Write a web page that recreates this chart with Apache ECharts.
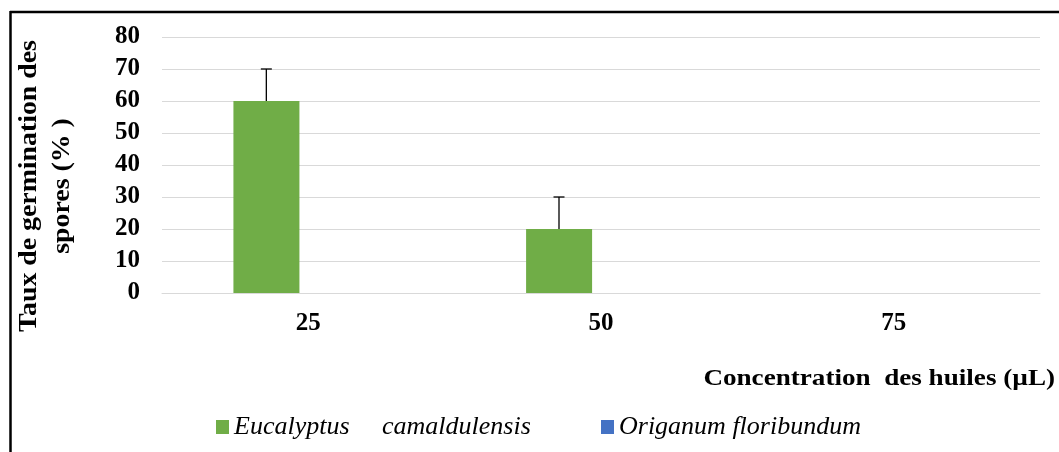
<!DOCTYPE html>
<html>
<head>
<meta charset="utf-8">
<script src="https://cdn.jsdelivr.net/npm/echarts@6/dist/echarts.min.js"></script>
<style>html,body{margin:0;padding:0;background:#fff}#c{width:1059px;height:452px}</style>
</head>
<body>
<div id="c"></div>
<script>
const categories = ['25', '50', '75'];
const seriesNames = ['Eucalyptus     camaldulensis', 'Origanum floribundum'];
const eucalyptus = [60, 20, 0];
const eucalyptusErr = [10, 10, 0];
const origanum = [0, 0, 0];
const origanumErr = [0, 0, 0];
const yTicks = { min: 0, max: 80, interval: 10 };
const yTitle = 'Taux de germination des\nspores (% )';
const xTitle = 'Concentration  des huiles (µL)';

const FONT = '"Liberation Serif", "Times New Roman", serif';
const chart = echarts.init(document.getElementById('c'));

function errSeries(vals, errs, idx) {
  return {
    type: 'custom',
    name: 'err' + idx,
    z: 5,
    data: vals.map((v, i) => [i, v, errs[i]]),
    renderItem: function (params, api) {
      const i = api.value(0), v = api.value(1), e = api.value(2);
      if (!e) return null;
      const base = api.coord([i, v]);
      const top = api.coord([i, v + e]);
      const off = (idx === 0 ? -1 : 1) * 42;
      const x = base[0] + off;
      return {
        type: 'group',
        children: [
          { type: 'line', shape: { x1: x, y1: base[1], x2: x, y2: top[1] }, style: { stroke: '#000', lineWidth: 1.3 } },
          { type: 'line', shape: { x1: x - 5.5, y1: top[1], x2: x + 5.5, y2: top[1] }, style: { stroke: '#000', lineWidth: 1.3 } }
        ]
      };
    }
  };
}

const legendText = { fontFamily: FONT, fontStyle: 'italic', fontSize: 26, color: '#000' };

chart.setOption({
  animation: false,
  grid: { left: 162, right: 19, top: 37, bottom: 159 },
  xAxis: {
    type: 'category',
    data: categories,
    axisLine: { lineStyle: { color: '#d9d9d9', width: 1 } },
    axisTick: { show: false },
    axisLabel: { color: '#000', fontFamily: FONT, fontWeight: 'bold', fontSize: 25, margin: 18 }
  },
  yAxis: {
    type: 'value',
    min: yTicks.min, max: yTicks.max, interval: yTicks.interval,
    axisLine: { show: false },
    axisTick: { show: false },
    splitLine: { lineStyle: { color: '#d9d9d9', width: 1 } },
    axisLabel: { color: '#000', fontFamily: FONT, fontWeight: 'bold', fontSize: 25, margin: 22 }
  },
  legend: [
    { data: [seriesNames[0]], left: 211, top: 409, itemWidth: 13, itemHeight: 14, icon: 'rect', itemGap: 8, textStyle: legendText },
    { data: [seriesNames[1]], left: 596, top: 409, itemWidth: 13, itemHeight: 14, icon: 'rect', itemGap: 8, textStyle: legendText }
  ],
  series: [
    { type: 'bar', name: seriesNames[0], data: eucalyptus, barWidth: 66, barGap: '27%', itemStyle: { color: '#70AD47' } },
    { type: 'bar', name: seriesNames[1], data: origanum, barWidth: 66, itemStyle: { color: '#4472C4' } },
    errSeries(eucalyptus, eucalyptusErr, 0),
    errSeries(origanum, origanumErr, 1)
  ],
  graphic: [
    { type: 'line', shape: { x1: 10, y1: 12, x2: 1059, y2: 12 }, style: { stroke: '#000', lineWidth: 2.5 } },
    { type: 'line', shape: { x1: 10.5, y1: 11, x2: 10.5, y2: 452 }, style: { stroke: '#000', lineWidth: 2.5 } },
    {
      type: 'text', x: 46, y: 186, rotation: Math.PI / 2, scaleX: 1.07,
      style: { text: yTitle, fontFamily: FONT, fontWeight: 'bold', fontSize: 26, lineHeight: 33, fill: '#000', align: 'center', verticalAlign: 'middle' }
    },
    {
      type: 'text', x: 1055, y: 379, scaleX: 1.13,
      style: { text: xTitle, fontFamily: FONT, fontWeight: 'bold', fontSize: 24, fill: '#000', align: 'right', verticalAlign: 'middle' }
    }
  ]
});
</script>
</body>
</html>
